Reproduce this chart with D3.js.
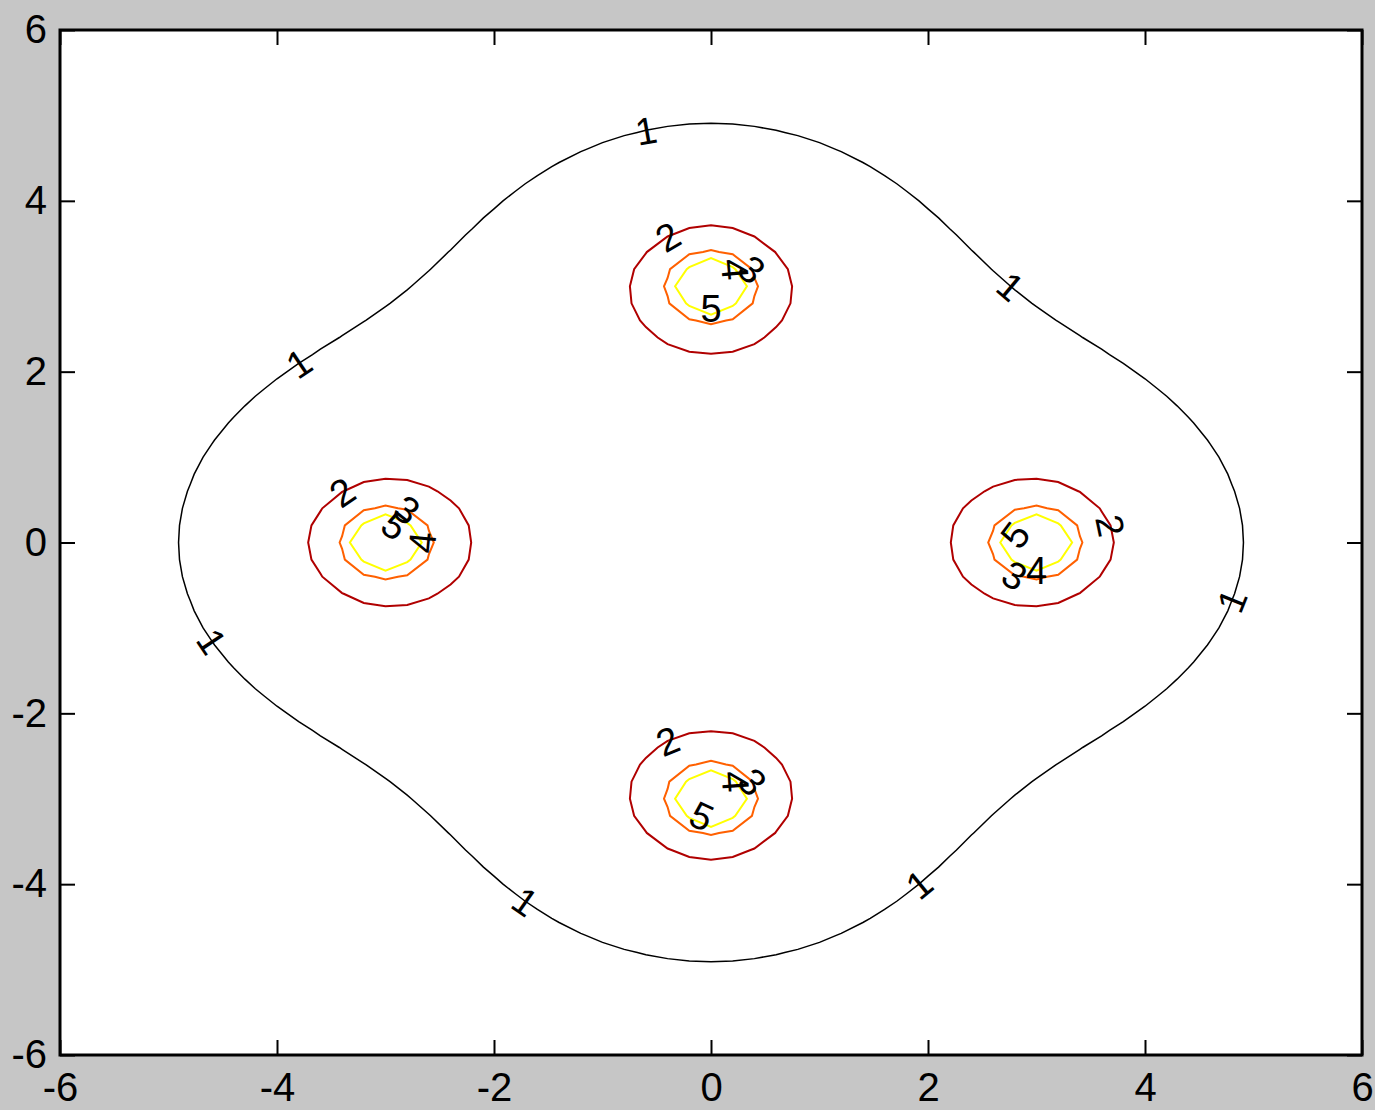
<!DOCTYPE html>
<html>
<head>
<meta charset="utf-8">
<script src="https://cdn.jsdelivr.net/npm/d3@7"></script>
<style>
    body { margin: 0; background: #c6c6c6; }
    svg { display: block; }
    text { font-family: "Liberation Sans Narrow", "Liberation Sans", Arial, sans-serif; }
</style>
</head>
<body>
<svg id="chart"></svg>
<script>
// four unit point charges, potential = sum of q / r
const chargeX = [0, 0, -3, 3];
const chargeY = [3, -3, 0, 0];
const chargeQ = [1, 1, 1, 1];

// contour levels and their colours (hot colormap)
const levels = [1, 2, 3, 4, 5];
const levelColors = ["#000000", "#b00000", "#ff6000", "#ffff00", "#ffffff"];

const tickValues = [-6, -4, -2, 0, 2, 4, 6];

// sampling grid (meshgrid -6:0.2:6)
const gridMin = -6, gridMax = 6, gridStep = 0.2;

// inline contour labels: level and rough position (data units)
const labelLevel = [1, 1, 1, 1, 1, 1, 1,
                    2, 2, 2, 2,
                    3, 4, 5, 3, 4, 5,
                    5, 3, 4, 5, 3, 4];
const labelX = [-0.61, 2.76, -3.79, -4.59, -1.70, 1.93, 4.76,
                -0.47, -3.48, 3.65, -0.47,
                0.30, 0.24, -0.04, 0.30, 0.24, -0.04,
                -2.93, -2.70, -2.70, 2.80, 2.83, 2.94];
const labelY = [4.86, 3.01, 2.23, -1.14, -4.22, -3.93, -0.70,
                3.54, 0.55, 0.18, -2.31,
                3.30, 3.22, 2.78, -2.70, -2.78, -3.19,
                0.20, 0.36, 0.09, 0.18, -0.29, -0.29];

const W = 1375, H = 1110;
const margin = { left: 60, right: 13, top: 30, bottom: 55 };

const svg = d3.select("#chart")
    .attr("width", W)
    .attr("height", H);

const x = d3.scaleLinear().domain([-6, 6]).range([margin.left, W - margin.right]);
const y = d3.scaleLinear().domain([-6, 6]).range([H - margin.bottom, margin.top]);

// plot area
svg.append("rect")
    .attr("x", x(-6)).attr("y", y(6))
    .attr("width", x(6) - x(-6)).attr("height", y(-6) - y(6))
    .attr("fill", "#fff");

// field on grid
const n = Math.round((gridMax - gridMin) / gridStep) + 1;
const values = new Array(n * n);
for (let j = 0; j < n; j++) {
    for (let i = 0; i < n; i++) {
        const px = gridMin + i * gridStep, py = gridMin + j * gridStep;
        let v = 0;
        for (let k = 0; k < chargeX.length; k++) {
            const r = Math.hypot(px - chargeX[k], py - chargeY[k]);
            v += r < 1e-9 ? 1e6 : chargeQ[k] / r;
        }
        values[j * n + i] = v;
    }
}

const contours = d3.contours().size([n, n]).thresholds(levels)(values);

const toPx = p => [x(gridMin + (p[0] - 0.5) * gridStep), y(gridMin + (p[1] - 0.5) * gridStep)];

const ringsByLevel = {};
const plot = svg.append("g");

contours.forEach((c, ci) => {
    const rings = [];
    c.coordinates.forEach(poly => poly.forEach(ring => rings.push(ring.map(toPx))));
    ringsByLevel[c.value] = rings;
    plot.selectAll(null)
        .data(rings)
        .enter().append("path")
        .attr("d", r => "M" + r.map(p => p[0].toFixed(2) + "," + p[1].toFixed(2)).join("L") + "Z")
        .attr("fill", "none")
        .attr("stroke", levelColors[ci])
        .attr("stroke-width", c.value === 1 ? 1.5 : 2);
});

// labels snapped to their contour, rotated along it
const labels = labelLevel.map((lv, i) => {
    const tx = x(labelX[i]), ty = y(labelY[i]);
    let best = null, bestD = Infinity;
    (ringsByLevel[lv] || []).forEach(ring => {
        ring.forEach((p, k) => {
            const d = (p[0] - tx) ** 2 + (p[1] - ty) ** 2;
            if (d < bestD) { bestD = d; best = { ring, k }; }
        });
    });
    if (!best) return { x: tx, y: ty, a: 0, text: lv };
    const r = best.ring, m = r.length;
    const p0 = r[(best.k - 2 + m) % m], p1 = r[(best.k + 2) % m];
    let a = Math.atan2(p1[1] - p0[1], p1[0] - p0[0]) * 180 / Math.PI;
    if (a > 90) a -= 180;
    if (a < -90) a += 180;
    return { x: r[best.k][0], y: r[best.k][1], a, text: lv };
});

svg.append("g")
    .selectAll("text")
    .data(labels)
    .enter().append("text")
    .attr("transform", d => `translate(${d.x},${d.y}) rotate(${d.a})`)
    .attr("text-anchor", "middle")
    .attr("dy", "0.36em")
    .attr("font-size", 38)
    .attr("fill", "#000")
    .text(d => d.text);

// axes with inward ticks
const fmt = d => String(d);
const styleAxis = g => {
    g.select(".domain").remove();
    g.selectAll(".tick line").attr("stroke", "#000").attr("stroke-width", 2);
    g.selectAll(".tick text").attr("font-size", 40).attr("fill", "#000")
        .attr("font-family", "\"Liberation Sans Narrow\", \"Liberation Sans\", Arial, sans-serif");
};

svg.append("g")
    .attr("transform", `translate(0,${y(-6)})`)
    .call(d3.axisBottom(x).tickValues(tickValues).tickSize(-15).tickPadding(18).tickFormat(fmt))
    .call(styleAxis);

svg.append("g")
    .attr("transform", `translate(${x(-6)},0)`)
    .call(d3.axisLeft(y).tickValues(tickValues).tickSize(-15).tickPadding(13).tickFormat(fmt))
    .call(styleAxis);

svg.append("g")
    .attr("transform", `translate(0,${y(6)})`)
    .call(d3.axisTop(x).tickValues(tickValues).tickSize(-15).tickFormat(""))
    .call(styleAxis);

svg.append("g")
    .attr("transform", `translate(${x(6)},0)`)
    .call(d3.axisRight(y).tickValues(tickValues).tickSize(-15).tickFormat(""))
    .call(styleAxis);

// axes box
svg.append("rect")
    .attr("x", x(-6)).attr("y", y(6))
    .attr("width", x(6) - x(-6)).attr("height", y(-6) - y(6))
    .attr("fill", "none")
    .attr("stroke", "#000")
    .attr("stroke-width", 3);
</script>
</body>
</html>
